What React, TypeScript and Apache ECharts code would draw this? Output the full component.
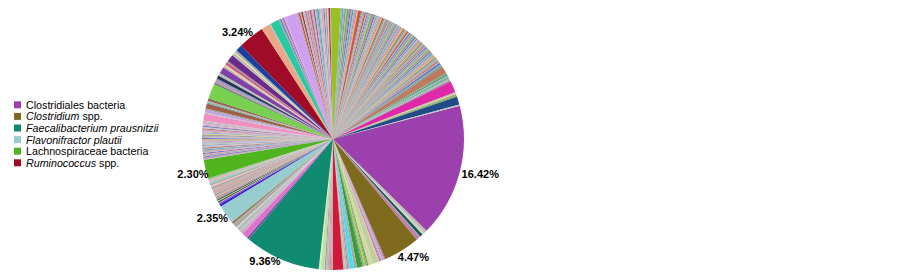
import React, { useEffect, useRef } from 'react';
import * as echarts from 'echarts';

// Named taxa (legend + labelled slices), in drawing order
const taxa = [
  'Clostridiales bacteria',
  'Clostridium spp.',
  'Faecalibacterium prausnitzii',
  'Flavonifractor plautii',
  'Lachnospiraceae bacteria',
  'Ruminococcus spp.',
];
const taxaShares = [16.42, 4.47, 9.36, 2.35, 2.3, 3.24];
const taxaColors = ['#9c40ad', '#7e6a1c', '#108a70', '#98cdd0', '#50b41e', '#a00c28'];
// small label nudges (px) to mimic the original "outside end" placement
const labelNudge = [[-3, 1], [-9, 7], [4, 2], [7, 3], [8, 5], [7, -5]];

// Unnamed minor taxa between the named slices (percent shares, read clockwise)
const minorA = [0.05, 0.04, 0.05, 0.04, 0.06, 0.08, 0.06, 0.08, 0.2, 0.38, 0.06, 0.5];
const minorAColors = ['#a6d96a', '#f0e050', '#e020c0', '#4a9a60', '#c0c0c0', '#b0b0b0', '#9ed0d0', '#a8a8a8', '#d8d8d0', '#1e5a50', '#a0c0a0', '#c080b0'];

const minorB = [0.12, 0.1, 0.15, 0.12, 0.18, 0.1, 0.13, 0.7, 0.5, 0.15, 0.1, 0.2, 0.12, 0.25, 0.1, 0.6, 0.35, 0.5, 0.2, 0.15, 0.25, 0.23, 1.3, 0.2, 0.15, 0.25, 0.2, 0.2, 0.5, 0.2];
const minorBColors = ['#e04080', '#40d0e0', '#c090c0', '#f0a0b0', '#b0a0b0', '#e020a0', '#c8c8c8', '#c0d098', '#d0d8a8', '#a0e040', '#6040c0', '#90c040', '#b0b0b0', '#80d030', '#5050a0', '#3a9a3a', '#a8a8a8', '#40e0f0', '#b0b0b0', '#909098', '#b8b8b8', '#b8c0b0', '#d01838', '#c0a0a8', '#e08090', '#b0b0b0', '#d0b0b8', '#a0a0a0', '#c0e0a0', '#e0f0c0'];

const minorC = [0.3, 0.7, 0.15, 0.2, 0.3, 0.25, 0.2, 0.45, 0.15, 0.2];
const minorCColors = ['#6858a8', '#e070c8', '#c0a0d0', '#d0a0c0', '#c0c0c0', '#a0b8b8', '#d0d0d0', '#b0a8a0', '#a0a0a0', '#8b6a30'];

const minorD = [0.3, 0.15, 0.1, 0.15, 0.1, 0.15, 0.2, 0.1, 0.25, 0.15, 0.5, 0.2, 0.3, 0.15, 0.25, 0.1, 0.15, 0.25, 0.2];
const minorDColors = ['#3a20c8', '#8040c0', '#c0c0c0', '#205040', '#e0e0a0', '#304030', '#a0a0a0', '#e06080', '#c8b0b0', '#90a090', '#d0a8a8', '#b0b0b0', '#c0a0a0', '#f0c0c0', '#a8b0a8', '#60c0c0', '#b8b8b8', '#d8b8b8', '#a0c0a0'];

const minorE = [
  0.1, 0.08, 0.12, 0.1, 0.08, 0.15, 0.1, 0.12, 0.1, 0.08, 0.12, 0.15, 0.1, 0.1, 0.12, 0.1, 0.12, 0.15, 0.11,
  0.15, 0.12, 0.2, 0.1, 0.15, 0.12, 0.2, 0.1, 0.15, 0.12, 0.25, 0.1, 0.15, 0.2, 0.12, 0.18, 0.12, 0.15,
  0.9, 0.15, 0.3, 0.2, 0.6, 0.15, 0.2, 0.3,
  1.9,
  0.12, 0.2, 0.15, 0.25, 0.4, 0.2, 0.15, 0.8, 0.2, 0.1, 0.15, 0.3, 0.2, 0.9, 0.36, 0.12, 0.3, 0.8,
];
const minorEColors = [
  '#b0b0b0', '#c080c0', '#a0a0a0', '#6040d0', '#c0c0a0', '#9898a8', '#e0a0a0', '#8060c0', '#b8b8b8', '#d08080', '#a8a8b0', '#60a0c0', '#c0b0b0', '#a04040', '#b0b8b8', '#d0c0e0', '#9090a0', '#c0c0c0', '#80c0c0',
  '#e090c0', '#a8a8a8', '#d0b090', '#7070d0', '#b0c0b0', '#c0a0c0', '#a0a0a0', '#f0d060', '#90b0d0', '#b8b0b0', '#d8a0c0', '#a06060', '#c8c8c8', '#9080c0', '#b0b0b8', '#e0b0d0', '#a0a8a0', '#c0c0d0',
  '#f090c0', '#c0c0c0', '#c0a0e0', '#a0a0a0', '#a06048', '#60b0a0', '#b0b0b0', '#8c6a50',
  '#78d050',
  '#2a3a70', '#a0a0a0', '#e070a0', '#80a0c0', '#283058', '#b0b0b0', '#a0d0a0', '#8040a8', '#c0a0c0', '#f0f040', '#c0c0c0', '#d05080', '#a09090', '#6a2a8a', '#c0b8c0', '#f0f060', '#b0b0b0', '#1a40a0',
];

const minorF1 = [
  1.1, 0.1, 1.1, 0.15, 0.2, 0.15, 0.2,
  0.1, 1.6, 0.15, 0.2, 0.15,
  0.2, 0.15, 0.12, 0.2, 0.1, 0.15, 0.12, 0.2, 0.1, 0.15, 0.2, 0.12, 0.15, 0.2, 0.12, 0.15, 0.2, 0.1, 0.15, 0.12, 0.2, 0.15, 0.2, 0.1,
  1.2, 0.15, 0.2,
];
const minorF1Colors = [
  '#e8a888', '#c0c0c0', '#28c8a0', '#a0a0a0', '#6080c0', '#b0b0b0', '#c060c0',
  '#b8b8b8', '#d0a0f0', '#a0a0a0', '#c05050', '#b0b0b0',
  '#a04030', '#c0c0c0', '#a8a8b0', '#d070b0', '#b0b0b0', '#9090b0', '#c0b0a0', '#e05060', '#a0a0a0', '#b8b8c0', '#9060b0', '#c0c0c0', '#b0a0a0', '#40b0d0', '#a8a8a8', '#c0c0d0', '#e0a0c0', '#b0b0b0', '#8080a0', '#c8c0c0', '#a0a0a0', '#d0d0a0', '#c02060', '#b0b0b0',
  '#98c020', '#a0a0a0', '#40c0b0',
];

const minorDense = [
  0.12, 0.18, 0.1, 0.22, 0.14, 0.16, 0.11, 0.2, 0.13, 0.17,
  0.15, 0.1, 0.4, 0.12, 0.16, 0.14, 0.19, 0.11, 0.13, 0.18,
  0.1, 0.14, 0.21, 0.12, 0.15, 0.17, 0.1, 0.25, 0.13, 0.16,
  0.12, 0.19, 0.14, 0.11, 0.3, 0.13, 0.15, 0.1, 0.18, 0.14,
  0.17, 0.12, 0.16, 0.11, 0.2, 0.14, 0.12, 0.18, 0.1, 0.15,
  0.13, 0.16, 0.1, 0.14, 0.22, 0.12, 0.17, 0.11, 0.15, 0.13,
  0.18, 0.1, 0.15, 0.12, 0.14, 0.16, 0.11, 0.19, 0.13, 0.12,
  0.15, 0.11, 0.17, 0.13, 0.1, 0.16, 0.12, 0.14, 0.11, 0.15,
  0.12, 0.14, 0.1, 0.16, 0.13, 0.11, 0.15, 0.12, 0.1, 0.14,
  0.2, 0.16, 0.14, 0.12, 0.24,
];
const densePalette = ['#a8a8a8', '#909090', '#b0b0c0', '#70b040', '#9a9a9a', '#8050c0', '#c0b0a0', '#40a0c0', '#b8b8b8', '#d080b0', '#a0a0a8', '#e0c040', '#d85040', '#50b090', '#c0a0c0', '#a0a0a0', '#c06040', '#b0b8b0', '#6070d0'];

const minorF2 = [0.2, 0.15, 0.9, 0.15, 0.2, 0.15, 0.2, 0.15, 0.1, 0.2, 1.4, 0.15, 0.1, 0.2, 0.15, 1.0, 0.15];
const minorF2Colors = ['#a0a0a0', '#40a080', '#c07860', '#80a080', '#30a070', '#b0b0b0', '#60b0a0', '#a0a0a0', '#c0c0c0', '#9090a0', '#e028a8', '#b0b0b0', '#f0e050', '#a0a0a0', '#80b040', '#204a88', '#c0c0c0'];

const legendRich: Record<string, string> = {
  'Clostridiales bacteria': 'Clostridiales bacteria',
  'Clostridium spp.': '{i|Clostridium} spp.',
  'Faecalibacterium prausnitzii': '{i|Faecalibacterium prausnitzii}',
  'Flavonifractor plautii': '{i|Flavonifractor plautii}',
  'Lachnospiraceae bacteria': 'Lachnospiraceae bacteria',
  'Ruminococcus spp.': '{i|Ruminococcus} spp.',
};

function minor(values: number[], colors: string[], tag: string) {
  return values.map((v, i) => ({
    name: `minor ${tag}${i + 1}`,
    value: v,
    itemStyle: { color: colors[i % colors.length] },
  }));
}

function named(i: number) {
  return {
    name: taxa[i],
    value: taxaShares[i],
    itemStyle: { color: taxaColors[i] },
    label: { show: true, offset: labelNudge[i] },
  };
}

const FONT = 'Liberation Sans, Arial, sans-serif';

export default function App() {
  const ref = useRef<HTMLDivElement>(null);
  useEffect(() => {
    if (!ref.current) return;
    const chart = echarts.init(ref.current, undefined, { renderer: 'svg' });
    const data = [
      named(0),
      ...minor(minorA, minorAColors, 'a'),
      named(1),
      ...minor(minorB, minorBColors, 'b'),
      named(2),
      ...minor(minorC, minorCColors, 'c'),
      named(3),
      ...minor(minorD, minorDColors, 'd'),
      named(4),
      ...minor(minorE, minorEColors, 'e'),
      named(5),
      ...minor(minorF1, minorF1Colors, 'f'),
      ...minor(minorDense, densePalette, 'g'),
      ...minor(minorF2, minorF2Colors, 'h'),
    ];
    chart.setOption({
      animation: false,
      backgroundColor: '#ffffff',
      legend: {
        data: taxa,
        orient: 'vertical',
        left: 14,
        top: 99,
        padding: 0,
        itemWidth: 7,
        itemHeight: 7,
        itemGap: 0,
        icon: 'rect',
        selectedMode: false,
        textStyle: {
          fontFamily: FONT,
          fontSize: 10.7,
          lineHeight: 11.6,
          color: '#000',
          rich: {
            i: {
              fontFamily: FONT,
              fontSize: 10.7,
              lineHeight: 11.6,
              fontStyle: 'italic',
              color: '#000',
            },
          },
        },
        formatter: (name: string) => legendRich[name] ?? name,
      },
      series: [
        {
          type: 'pie',
          center: [333, 139],
          radius: 131,
          startAngle: 14.7,
          clockwise: true,
          avoidLabelOverlap: false,
          silent: true,
          itemStyle: { borderWidth: 0 },
          label: {
            show: false,
            position: 'outside',
            formatter: (p: any) => `${Number(p.value).toFixed(2)}%`,
            fontFamily: FONT,
            fontSize: 11,
            fontWeight: 'bold',
            color: '#000',
          },
          labelLine: { show: false, length: 0, length2: 0 },
          emphasis: { disabled: true },
          data,
        },
      ],
    });
    return () => chart.dispose();
  }, []);
  return (
    <div
      ref={ref}
      style={{ position: 'absolute', left: 0, top: 0, width: 903, height: 275, background: '#fff' }}
    />
  );
}
